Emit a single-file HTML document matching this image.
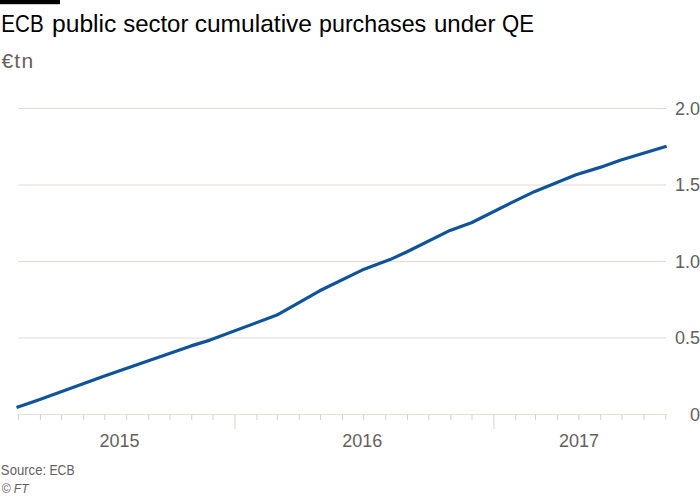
<!DOCTYPE html>
<html><head><meta charset="utf-8"><style>
html,body{margin:0;padding:0;background:#fff;}
svg{display:block;}
text{font-family:"Liberation Sans",sans-serif;}
.ax{font-size:18px;fill:#66605c;}
</style></head><body>
<svg width="700" height="496" viewBox="0 0 700 496">
<rect x="0" y="0" width="60" height="4.2" fill="#000"/>
<text transform="translate(1.28,32) scale(0.8586,1)" x="0" y="0" font-size="24" fill="#000">ECB</text>
<text transform="translate(51.96,32) scale(1.0277,1)" x="0" y="0" font-size="24" fill="#000">public</text>
<text transform="translate(123.15,32) scale(0.9992,1)" x="0" y="0" font-size="24" fill="#000">sector</text>
<text transform="translate(194.68,32) scale(1.0238,1)" x="0" y="0" font-size="24" fill="#000">cumulative</text>
<text transform="translate(319.05,32) scale(0.9679,1)" x="0" y="0" font-size="24" fill="#000">purchases</text>
<text transform="translate(434.00,32) scale(1.0000,1)" x="0" y="0" font-size="24" fill="#000">under</text>
<text transform="translate(501.97,32) scale(0.9231,1)" x="0" y="0" font-size="24" fill="#000">QE</text>

<text y="68" font-size="21" fill="#66605c"><tspan x="1.44">€</tspan><tspan x="14.35">t</tspan><tspan x="21.45">n</tspan></text>
<line x1="18" x2="666" y1="108.5" y2="108.5" stroke="#e6d9ce" stroke-width="1"/>
<text x="700" y="114.8" text-anchor="end" class="ax">2.0</text>
<line x1="18" x2="666" y1="185.0" y2="185.0" stroke="#e6d9ce" stroke-width="1"/>
<text x="700" y="191.3" text-anchor="end" class="ax">1.5</text>
<line x1="18" x2="666" y1="261.5" y2="261.5" stroke="#e6d9ce" stroke-width="1"/>
<text x="700" y="267.8" text-anchor="end" class="ax">1.0</text>
<line x1="18" x2="666" y1="338.0" y2="338.0" stroke="#e6d9ce" stroke-width="1"/>
<text x="700" y="344.3" text-anchor="end" class="ax">0.5</text>
<text x="700" y="420.8" text-anchor="end" class="ax">0</text>

<line x1="18" x2="666.3" y1="414.5" y2="414.5" stroke="#e4dfd9" stroke-width="1"/>
<line x1="18.5" x2="18.5" y1="414.5" y2="420.0" stroke="#d9d1c6" stroke-width="1"/>
<line x1="40.4" x2="40.4" y1="414.5" y2="420.0" stroke="#d9d1c6" stroke-width="1"/>
<line x1="61.7" x2="61.7" y1="414.5" y2="420.0" stroke="#d9d1c6" stroke-width="1"/>
<line x1="83.6" x2="83.6" y1="414.5" y2="420.0" stroke="#d9d1c6" stroke-width="1"/>
<line x1="104.8" x2="104.8" y1="414.5" y2="420.0" stroke="#d9d1c6" stroke-width="1"/>
<line x1="126.7" x2="126.7" y1="414.5" y2="420.0" stroke="#d9d1c6" stroke-width="1"/>
<line x1="148.7" x2="148.7" y1="414.5" y2="420.0" stroke="#d9d1c6" stroke-width="1"/>
<line x1="169.9" x2="169.9" y1="414.5" y2="420.0" stroke="#d9d1c6" stroke-width="1"/>
<line x1="191.8" x2="191.8" y1="414.5" y2="420.0" stroke="#d9d1c6" stroke-width="1"/>
<line x1="213.0" x2="213.0" y1="414.5" y2="420.0" stroke="#d9d1c6" stroke-width="1"/>
<line x1="235.0" x2="235.0" y1="414.5" y2="429.1" stroke="#dbd5cc" stroke-width="1"/>
<line x1="256.9" x2="256.9" y1="414.5" y2="420.0" stroke="#d9d1c6" stroke-width="1"/>
<line x1="277.4" x2="277.4" y1="414.5" y2="420.0" stroke="#d9d1c6" stroke-width="1"/>
<line x1="299.4" x2="299.4" y1="414.5" y2="420.0" stroke="#d9d1c6" stroke-width="1"/>
<line x1="320.6" x2="320.6" y1="414.5" y2="420.0" stroke="#d9d1c6" stroke-width="1"/>
<line x1="342.5" x2="342.5" y1="414.5" y2="420.0" stroke="#d9d1c6" stroke-width="1"/>
<line x1="363.7" x2="363.7" y1="414.5" y2="420.0" stroke="#d9d1c6" stroke-width="1"/>
<line x1="385.7" x2="385.7" y1="414.5" y2="420.0" stroke="#d9d1c6" stroke-width="1"/>
<line x1="407.6" x2="407.6" y1="414.5" y2="420.0" stroke="#d9d1c6" stroke-width="1"/>
<line x1="428.8" x2="428.8" y1="414.5" y2="420.0" stroke="#d9d1c6" stroke-width="1"/>
<line x1="450.8" x2="450.8" y1="414.5" y2="420.0" stroke="#d9d1c6" stroke-width="1"/>
<line x1="472.0" x2="472.0" y1="414.5" y2="420.0" stroke="#d9d1c6" stroke-width="1"/>
<line x1="493.9" x2="493.9" y1="414.5" y2="429.1" stroke="#dbd5cc" stroke-width="1"/>
<line x1="515.8" x2="515.8" y1="414.5" y2="420.0" stroke="#d9d1c6" stroke-width="1"/>
<line x1="535.6" x2="535.6" y1="414.5" y2="420.0" stroke="#d9d1c6" stroke-width="1"/>
<line x1="557.6" x2="557.6" y1="414.5" y2="420.0" stroke="#d9d1c6" stroke-width="1"/>
<line x1="578.8" x2="578.8" y1="414.5" y2="420.0" stroke="#d9d1c6" stroke-width="1"/>
<line x1="600.7" x2="600.7" y1="414.5" y2="420.0" stroke="#d9d1c6" stroke-width="1"/>
<line x1="622.0" x2="622.0" y1="414.5" y2="420.0" stroke="#d9d1c6" stroke-width="1"/>
<line x1="643.9" x2="643.9" y1="414.5" y2="420.0" stroke="#d9d1c6" stroke-width="1"/>
<line x1="665.8" x2="665.8" y1="414.5" y2="420.0" stroke="#d9d1c6" stroke-width="1"/>

<path d="M16.5,407.5 L37.0,400.4 L104.5,376.1 L191.1,345.9 L210.0,340.1 L276.9,315.1 L319.7,290.8 L362.1,270.1 L390.0,259.6 L407.1,251.8 L450.0,230.4 L471.4,222.8 L510.0,203.4 L534.9,191.4 L576.0,174.7 L600.0,167.4 L621.0,160.0 L666.6,146.3" fill="none" stroke="#0f5499" stroke-width="3.2" stroke-linejoin="round"/>
<text x="119.5" y="446.8" text-anchor="middle" class="ax">2015</text>
<text x="362.3" y="446.8" text-anchor="middle" class="ax">2016</text>
<text x="579.1" y="446.8" text-anchor="middle" class="ax">2017</text>
<text transform="translate(0.87,475.2) scale(0.9390,1)" font-size="14" fill="#66605c">Source:</text><text transform="translate(49.42,475.2) scale(0.8743,1)" font-size="14" fill="#66605c">ECB</text>
<text y="492.6" font-size="12.2" fill="#66605c"><tspan x="1.67">©</tspan><tspan x="13.8" font-size="12" font-style="italic">FT</tspan></text>
</svg>
</body></html>
